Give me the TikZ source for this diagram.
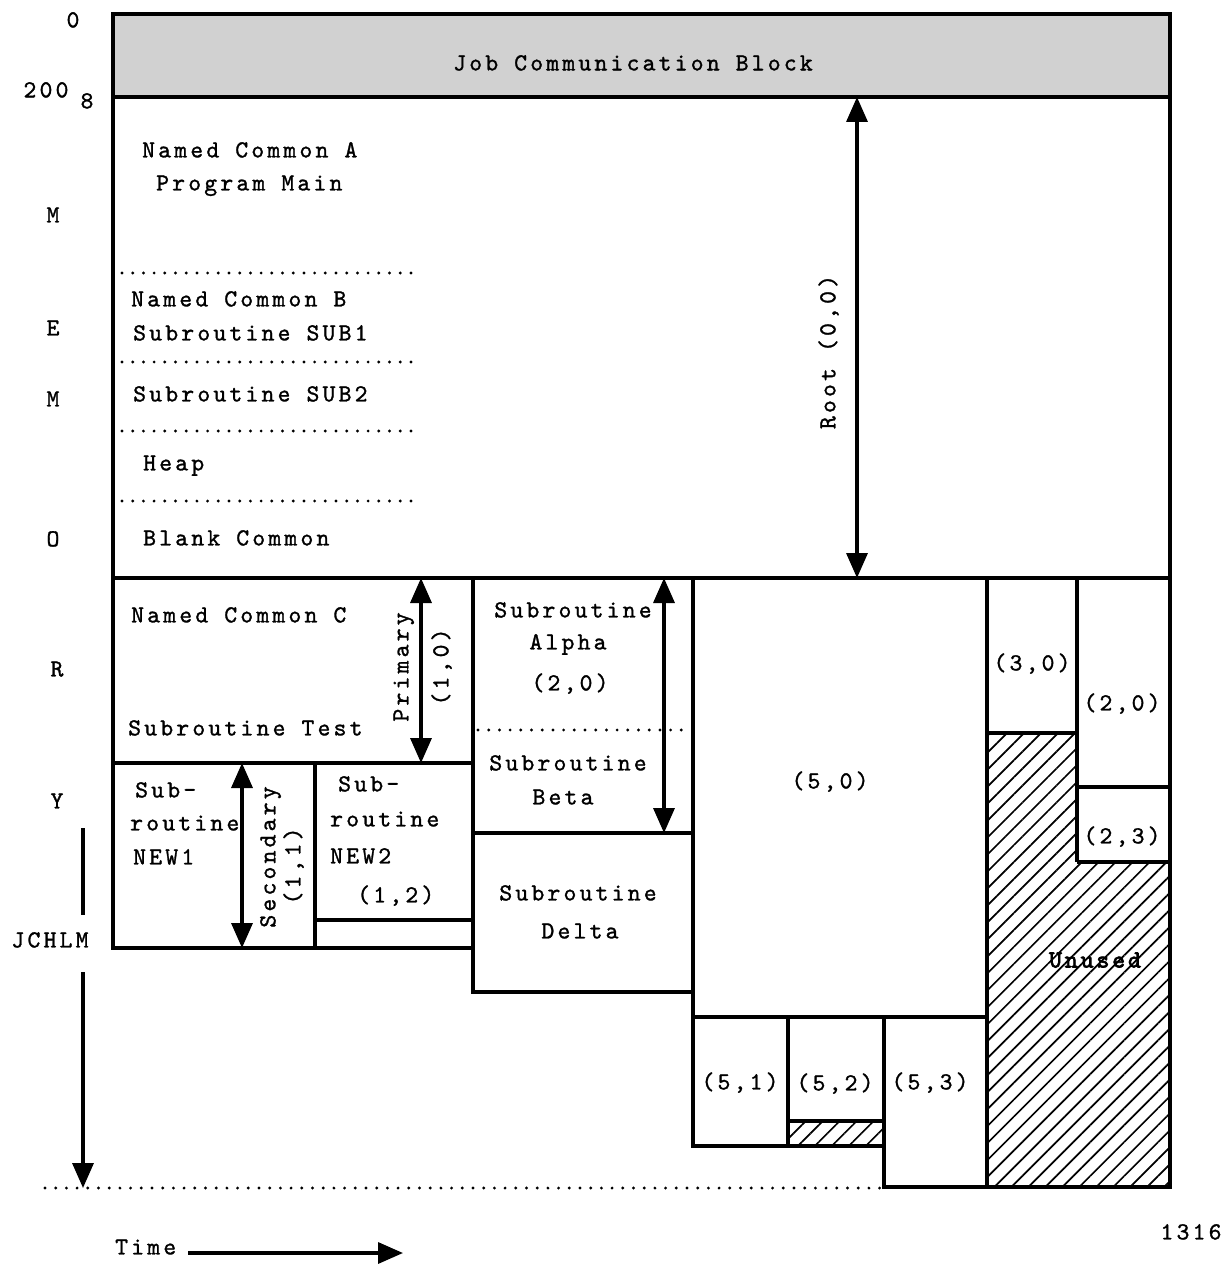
\documentclass[tikz,border=0pt]{standalone}
\usepackage{fontspec}
\usetikzlibrary{arrows.meta,patterns.meta}
\newfontfamily\courfam{lmmono10-regular.otf}[LetterSpace=13,FakeBold=1.2]
\newfontfamily\courbfam{lmmono10-regular.otf}[LetterSpace=12,FakeBold=3]
\newcommand\cour{\courfam\fontsize{24.5}{28}\selectfont}
\newcommand\courb{\courbfam\fontsize{24.5}{28}\selectfont}
\begin{document}
\begin{tikzpicture}[x=1pt,y=-1pt,
  lbl/.style={font=\cour, inner sep=0pt, text height=14.8pt, text depth=0pt},
  wlbl/.style={lbl, anchor=west},
  rlbl/.style={lbl, rotate=90},
  box/.style={line width=3.4pt},
  dotline/.style={line width=3.2pt, line cap=round, dash pattern=on 0pt off 10.7pt},
  tip/.tip={Triangle[length=25pt,width=21pt]},
  dbl/.style={line width=3.4pt, tip-tip},
  sarrow/.style={line width=3.4pt, -tip},
  hatch/.style={pattern={Lines[angle=45,distance=12pt,line width=1.7pt]}}]
\useasboundingbox (0,0) rectangle (1230,1265);

% job communication block band
\fill[black!18] (113,14) rectangle (1170,97);
\node[lbl] (jcb) at (633,63) {Job Communication Block};

% hatched areas
\fill[hatch] (987,733) -- (1077,733) -- (1077,862) -- (1170,862) -- (1170,1187) -- (987,1187) -- cycle;
\fill[hatch] (788,1121) rectangle (884,1146);

% outlines
\draw[box] (113,14) rectangle (1170,578);
\draw[box] (113,97) -- (1170,97);
\draw[box] (113,578) -- (113,948) -- (473,948);
\draw[box] (473,578) -- (473,992) -- (693,992);
\draw[box] (113,763) -- (473,763);
\draw[box] (315,763) -- (315,948);
\draw[box] (315,920) -- (473,920);
\draw[box] (693,578) -- (693,1146) -- (884,1146);
\draw[box] (473,833) -- (693,833);
\draw[box] (693,1017) -- (987,1017);
\draw[box] (987,578) -- (987,1187);
\draw[box] (788,1017) -- (788,1146);
\draw[box] (884,1017) -- (884,1187) -- (1170,1187) -- (1170,578);
\draw[box] (788,1121) -- (884,1121);
\draw[box] (1077,578) -- (1077,862);
\draw[box] (987,733) -- (1077,733);
\draw[box] (1077,787) -- (1170,787);
\draw[box] (1077,862) -- (1170,862);

% dotted separators
\draw[dotline] (122,273) -- (420,273);
\draw[dotline] (122,362) -- (420,362);
\draw[dotline] (122,431) -- (420,431);
\draw[dotline] (122,501) -- (420,501);
\draw[dotline] (478,730) -- (690,730);
\draw[dotline] (45,1188) -- (882,1188);

% left axis labels
\node[lbl] (l0) at (73,20) {0};
\node[lbl] (l200) at (46,90) {200};
\node[lbl] (l8) at (87,101) {8};
\node[lbl] (lM1) at (53,215) {M};
\node[lbl] (lE) at (53,328) {E};
\node[lbl] (lM2) at (53,399) {M};
\node[lbl] (lO) at (53,539) {O};
\node[lbl] (lR) at (57,669) {R};
\node[lbl] (lY) at (57,801) {Y};
\node[lbl] (jchlm) at (50,940) {JCHLM};
\coordinate (memA) at (83,828);
\coordinate (memB) at (83,915);
\coordinate (memC) at (83,972);
\coordinate (memD) at (83,1188);
\draw[line width=3.4pt] (memA) -- (memB);
\draw[sarrow] (memC) -- (memD);

% root texts
\node[wlbl] (nca) at (142,150) {Named Common A};
\node[wlbl] (pm) at (156,183) {Program Main};
\node[wlbl] (ncb) at (131,299) {Named Common B};
\node[wlbl] (sub1) at (133,333) {Subroutine SUB1};
\node[wlbl] (sub2) at (133,394) {Subroutine SUB2};
\node[wlbl] (heap) at (143,463) {Heap};
\node[wlbl] (blank) at (143,538) {Blank Common};
\coordinate (rootT) at (857,97);
\coordinate (rootB) at (857,578);
\draw[dbl] (rootT) -- (rootB);
\node[rlbl] (root) at (828,352) {Root (0,0)};

% primary (1,0)
\node[wlbl] (ncc) at (131,615) {Named Common C};
\node[wlbl] (stest) at (128,728) {Subroutine Test};
\coordinate (priT) at (421,578);
\coordinate (priB) at (421,763);
\draw[dbl] (priT) -- (priB);
\node[rlbl] (prim) at (401,667) {Primary};
\node[rlbl] (p10) at (441,667) {(1,0)};

% secondary
\node[wlbl] (s1a) at (135,790) {Sub-};
\node[wlbl] (s1b) at (130,823) {routine};
\node[wlbl] (s1c) at (133,857) {NEW1};
\coordinate (secT) at (242,763);
\coordinate (secB) at (242,948);
\draw[dbl] (secT) -- (secB);
\node[rlbl] (sec) at (268,857) {Secondary};
\node[rlbl] (p11) at (293,866) {(1,1)};
\node[wlbl] (s2a) at (338,784) {Sub-};
\node[wlbl] (s2b) at (330,819) {routine};
\node[wlbl] (s2c) at (330,856) {NEW2};
\node[wlbl] (p12) at (357,895) {(1,2)};

% column 2
\node[lbl] (alpha1) at (573,610) {Subroutine};
\node[lbl] (alpha2) at (568,642) {Alpha};
\node[lbl] (p20a) at (570,683) {(2,0)};
\node[lbl] (beta1) at (568,763) {Subroutine};
\node[lbl] (beta2) at (563,797) {Beta};
\coordinate (abT) at (664,578);
\coordinate (abB) at (664,833);
\draw[dbl] (abT) -- (abB);
\node[lbl] (delta1) at (578,893) {Subroutine};
\node[lbl] (delta2) at (580,931) {Delta};

% column 3
\node[lbl] (p50) at (830,781) {(5,0)};
\node[lbl] (p51) at (740,1082) {(5,1)};
\node[lbl] (p52) at (835,1083) {(5,2)};
\node[lbl] (p53) at (930,1082) {(5,3)};

% column 4
\node[lbl] (p30) at (1032,663) {(3,0)};
\node[lbl] (p20b) at (1122,703) {(2,0)};
\node[lbl] (p23) at (1122,836) {(2,3)};
\node[lbl, font=\courb] (unused) at (1095,960) {Unused};

% time
\node[wlbl] (time) at (115,1247) {Time};
\coordinate (tA) at (188,1253);
\coordinate (tB) at (403,1253);
\draw[sarrow] (tA) -- (tB);
\node[lbl] (num) at (1191,1232) {1316};
\end{tikzpicture}
\end{document}
